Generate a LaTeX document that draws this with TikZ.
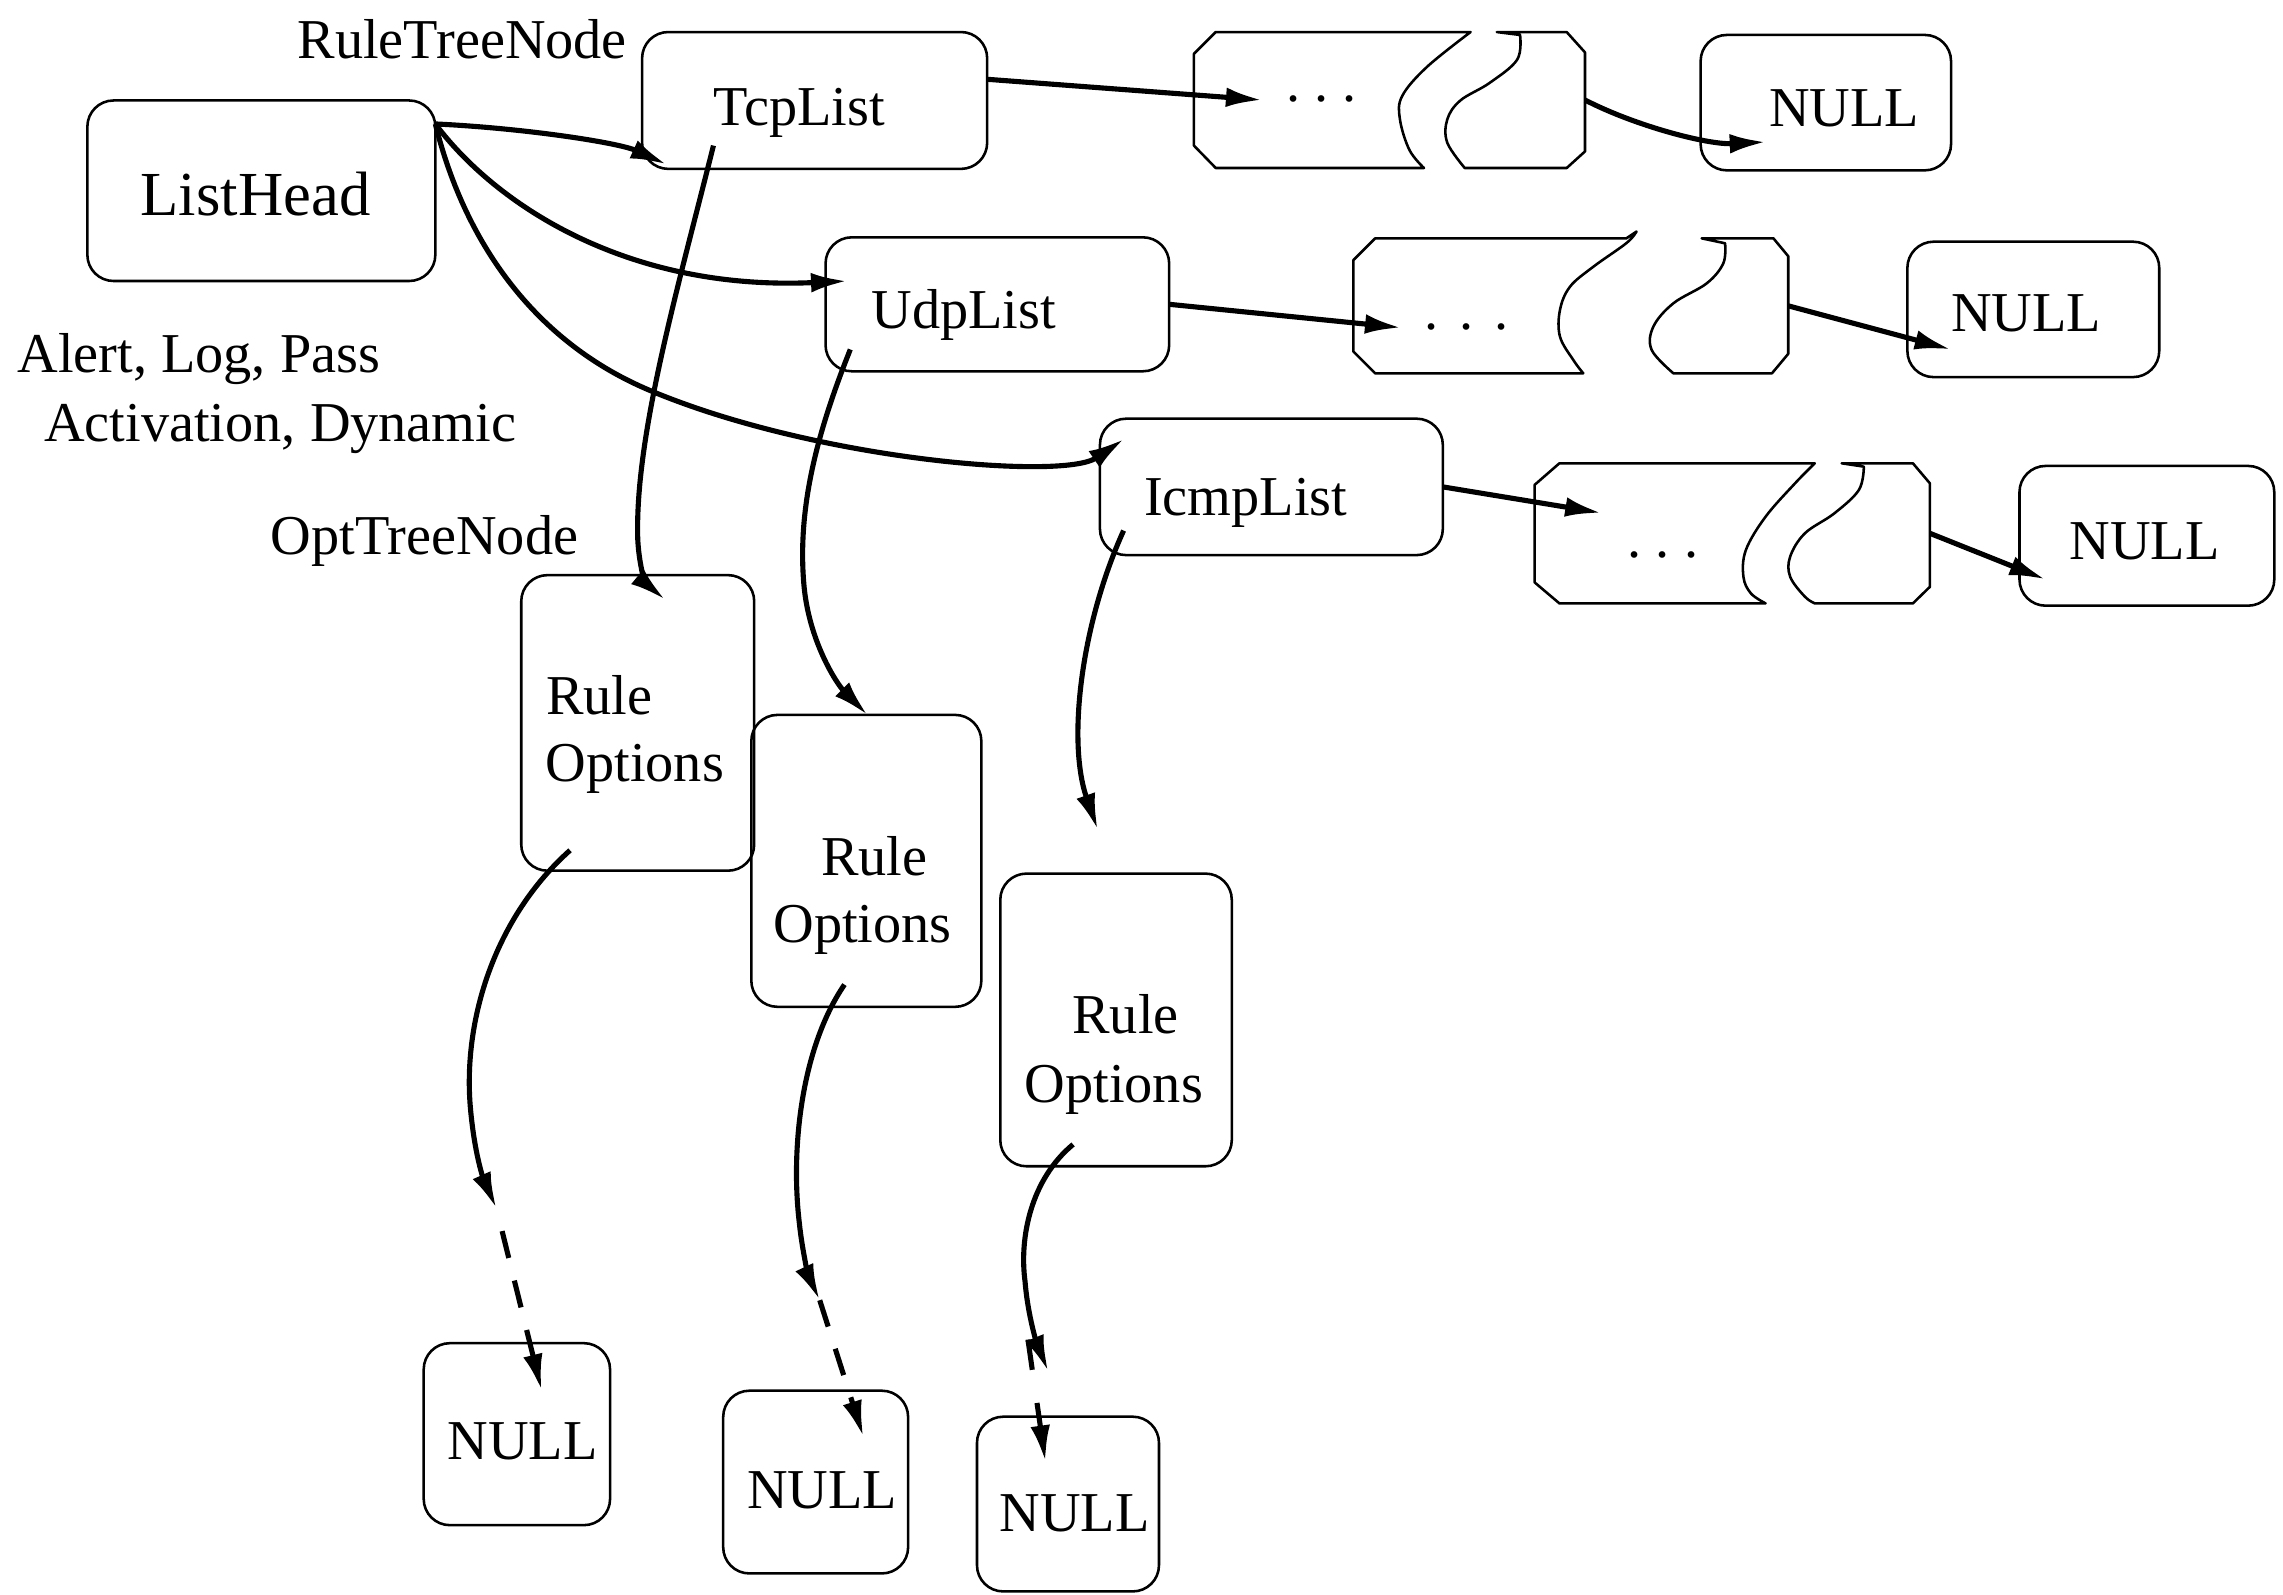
\documentclass[tikz,border=0pt]{standalone}
\usepackage{fontspec}
\setmainfont{Liberation Serif}
\usetikzlibrary{arrows.meta,calc}

\begin{document}
\begin{tikzpicture}[x=0.02cm,y=-0.02cm,
  rbox/.style 2 args={draw, rounded corners=0.36cm, line width=1pt, inner sep=0pt, outer sep=0pt,
                      minimum width=#1*0.02cm, minimum height=#2*0.02cm},
  zone/.style 2 args={inner sep=0pt, outer sep=0pt, minimum width=#1*0.02cm, minimum height=#2*0.02cm},
  txt/.style={anchor=base, inner sep=0pt, font=\fontsize{22}{26}\selectfont},
  dotrow/.style={inner sep=0pt, font=\fontsize{22}{26}\selectfont},
  link/.style={line width=2pt, -{Latex[length=0.5cm,width=0.27cm]}},
  dashlink/.style={link, dash pattern=on 0.38cm off 0.32cm},
  brk/.style={line width=1pt, line join=round},
]
\useasboundingbox (0,0) rectangle (1568,1095);

% ---------- list heads ----------
\node[rbox={239}{124}] (lh) at (179.5,131) {};
\node[txt, font=\fontsize{24.5}{29}\selectfont] (tLH) at (175.5,147.7) {ListHead};
\node[txt] (tRTN) at (317.5,40) {RuleTreeNode};
\node[txt] (tA1) at (136.5,256) {Alert, Log, Pass};
\node[txt] (tA2) at (192.5,303) {Activation, Dynamic};
\node[txt] (tOTN) at (291.5,381) {OptTreeNode};

\node[rbox={237}{94}] (tcp) at (559.5,69) {};
\node[txt] (tTcp) at (549,86) {TcpList};
\node[rbox={236}{92}] (udp) at (685,209) {};
\node[txt] (tUdp) at (662,225.5) {UdpList};
\node[rbox={235.5}{93.7}] (icmp) at (873.2,334.4) {};
\node[txt] (tIcmp) at (855.5,354) {IcmpList};

% ---------- NULL ends of the rule tree lists ----------
\node[rbox={172}{93}] (n1) at (1254,70.5) {};
\node[txt] (tN1) at (1266.5,87) {NULL};
\node[rbox={173}{93}] (n2) at (1396.5,212.5) {};
\node[txt] (tN2) at (1391.5,228) {NULL};
\node[rbox={175}{96}] (n3) at (1474.5,368) {};
\node[txt] (tN3) at (1473,384.6) {NULL};

% ---------- broken "..." segments ----------
\node[zone={268.6}{93.4}] (b1) at (954.3,68.7) {};
\draw[brk] (1010,22) -- (835,22) -- (820,37) -- (820,100) -- (835,115.4) -- (978,115.4)
  -- plot[smooth, tension=0.6] coordinates {(978,115.4) (968,103) (961.5,82) (963,66) (980,46) (1010,22)} -- cycle;
\draw[brk] (1028,22) -- (1076,22) -- (1088.6,36) -- (1088.6,104) -- (1076,115.4) -- (1006,115.4)
  -- plot[smooth, tension=0.6] coordinates {(1006,115.4) (994,98) (994,82) (1003,69) (1023,57) (1042,41) (1044,24)} -- cycle;
\node[dotrow] (d1) at (907.7,68) {.\hspace{0.196cm}.\hspace{0.196cm}.};

\node[zone={298.7}{92.7}] (b2) at (1078.85,210.05) {};
\draw[brk] (1117,163.7) -- (944.5,163.7) -- (929.5,178.7) -- (929.5,241.4) -- (944.5,256.4) -- (1087.4,256.4)
  -- plot[smooth, tension=0.6] coordinates {(1087.4,256.4) (1080.6,247.3) (1071.4,231.2) (1071.4,212.9) (1078.3,196.9) (1094.3,183.2) (1117,167) (1124,159)} -- cycle;
\draw[brk] (1168.7,163.7) -- (1218,163.7) -- (1228.2,176) -- (1228.2,243) -- (1217,256.4) -- (1149.3,256.4)
  -- plot[smooth, tension=0.6] coordinates {(1149.3,256.4) (1134.4,240.4) (1135.5,224.4) (1149.3,208.3) (1172.2,194.6) (1183.6,180.8) (1184.8,167.1)} -- cycle;
\node[dotrow] (d2) at (1007,224.4) {.\hspace{0.286cm}.\hspace{0.286cm}.};

\node[zone={271.5}{96.2}] (b3) at (1189.75,366.3) {};
\draw[brk] (1246.4,318.2) -- (1071,318.2) -- (1054,333) -- (1054,400) -- (1071,414.4) -- (1212.6,414.4)
  -- plot[smooth, tension=0.6] coordinates {(1212.6,414.4) (1202.5,407.5) (1197.4,396.1) (1199.1,377.7) (1212.6,354.9) (1232.9,331.9) (1246.4,318.2)} -- cycle;
\draw[brk] (1264.9,318.2) -- (1313.8,318.2) -- (1325.5,332) -- (1325.5,403) -- (1313.8,414.4) -- (1246.4,414.4)
  -- plot[smooth, tension=0.6] coordinates {(1246.4,414.4) (1239.6,409.8) (1229.5,396.1) (1229.5,382.3) (1239.6,366.3) (1259.8,352.6) (1276.7,336.5) (1280.1,320.5)} -- cycle;
\node[dotrow] (d3) at (1142,381.2) {.\hspace{0.196cm}.\hspace{0.196cm}.};

% ---------- option tree nodes ----------
\node[rbox={160}{203}] (r1) at (438,496.5) {};
\node[txt] (r1a) at (411.5,491) {Rule};
\node[txt] (r1b) at (436,537) {Options};
\node[rbox={158}{200.5}] (r2) at (595,591.25) {};
\node[txt] (r2a) at (600.5,601) {Rule};
\node[txt] (r2b) at (592.5,647) {Options};
\node[rbox={159}{201}] (r3) at (766.5,700.5) {};
\node[txt] (r3a) at (773,710) {Rule};
\node[txt] (r3b) at (765,757) {Options};

\node[rbox={128}{125}] (n4) at (355,985) {};
\node[txt] (tN4) at (359,1002.7) {NULL};
\node[rbox={127}{125.5}] (n5) at (560.2,1017.9) {};
\node[txt] (tN5) at (564.7,1036) {NULL};
\node[rbox={125}{120}] (n6) at (733.5,1033) {};
\node[txt] (tN6) at (738,1052) {NULL};

% ---------- connectors from the list head ----------
\draw[link] (lh.21) .. controls (360,88) and (425,98) .. ($(tcp.center)+(-101.5,44)$);
\draw[link] (lh.21) .. controls (340,140) and (430,200) .. ($(udp.center)+(-103,-16)$);
\draw[link] (lh.21) .. controls (320,170) and (370,236) .. (446,268)
  .. controls (560,316) and (730,330) .. ($(icmp.center)+(-101,-33)$);

% ---------- rule tree node chains ----------
\draw[link] (tcp.7) -- ($(b1.west)+(47,0)$);
\draw[link] (b1.east) .. controls +(35,18) and +(-40,2) .. ($(n1.center)+(-41,27)$);
\draw[link] (udp.east) -- ($(b2.west)+(33,15)$);
\draw[link] (b2.east) -- ($(n2.center)+(-56.5,27.5)$);
\draw[link] (icmp.east) -- ($(b3.west)+(46,-14)$);
\draw[link] (b3.east) -- ($(n3.center)+(-69.5,30)$);

% ---------- down to the option nodes ----------
\draw[link] ($(tcp.center)+(-69.5,31)$) .. controls (465,200) and (436,300) .. (438,370)
  .. controls (439,392) and (445,402) .. ($(r1.center)+(19,-84.5)$);
\draw[link] ($(udp.center)+(-101,31)$) .. controls (560,300) and (548,350) .. (552,400)
  .. controls (555,440) and (575,470) .. ($(r2.center)+(1,-100)$);
\draw[link] ($(icmp.center)+(-101.5,30)$) .. controls (742,430) and (733,510) .. ($(r3.center)+(-12.5,-130.5)$);

% ---------- option chains ending in NULL ----------
\coordinate (m4) at (341,830);
\coordinate (m5) at (563,893);
\coordinate (m6) at (720,942);
\coordinate (s6) at (706,920);
\draw[link] ($(r1.center)+(-46.5,87.5)$) .. controls (340,630) and (318,700) .. (323,760)
  .. controls (326,795) and (333,812) .. (m4);
\draw[dashlink, dash phase=0.38cm] (m4) -- ($(n4.center)+(17,-30)$);
\draw[link] ($(r2.center)+(-15,85)$) .. controls (550,720) and (543,790) .. (549,840)
  .. controls (551,860) and (556,878) .. (m5);
\draw[dashlink] (m5) -- ($(n5.center)+(32.8,-31)$);
\draw[link] ($(r3.center)+(-29.5,85.5)$) .. controls (708,810) and (700,850) .. (704,880)
  .. controls (706,905) and (713,925) .. (m6);
\draw[dashlink, dash pattern=on 0.42cm off 0.46cm] (s6) -- ($(n6.center)+(-15.5,-29)$);
\end{tikzpicture}
\end{document}
